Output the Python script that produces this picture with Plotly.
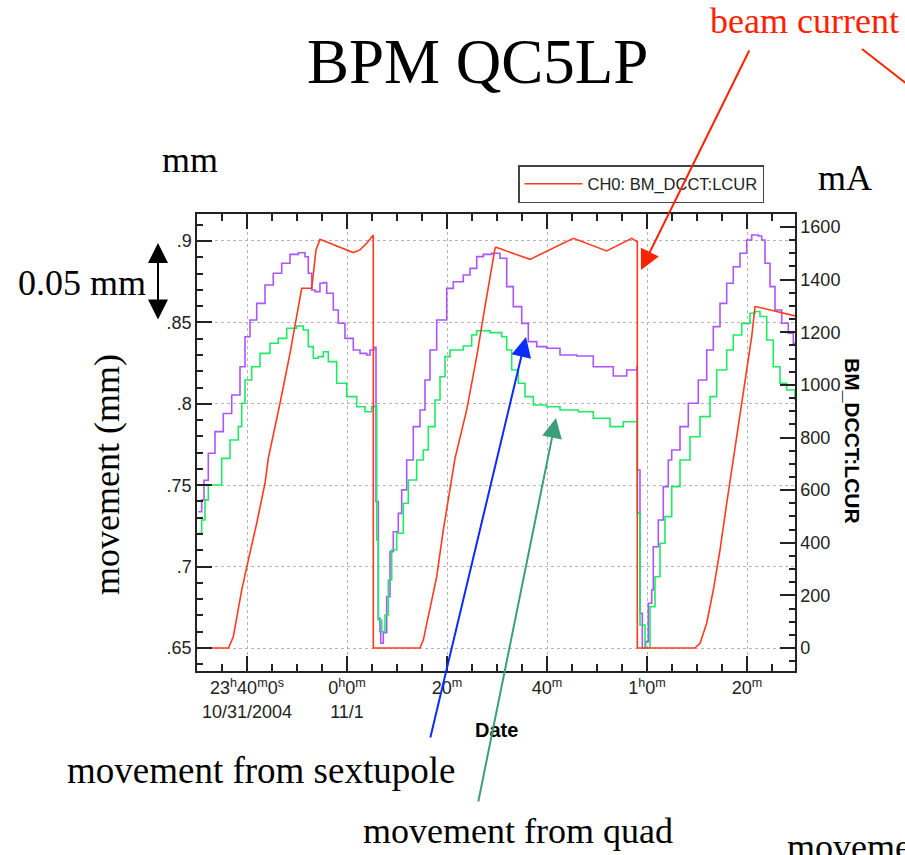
import pandas as pd
import plotly.graph_objects as go

# ---------------- data (minutes after 2004-10-31 23:30:00) ----------------
T0 = pd.Timestamp("2004-10-31 23:30:00")

cur_t = [0, 6.3, 7.26, 8.94, 10.26, 11.94, 13.6, 14.26, 16.6, 18.6, 20.94, 22.94, 23.8, 24.6,
         31.26, 32.6, 33.94, 35.14, 35.26, 35.26, 44.6, 45.26, 46.6, 47.94, 49.26, 50.6, 51.6,
         53.94, 55.94, 57.6, 58.6, 59.6, 59.8, 66.6, 75.26, 81.94, 86.94, 87.94, 88.06, 88.06,
         99.6, 100.6, 101.94, 103.26, 104.6, 105.94, 107.26, 109.26, 110.94, 111.6, 111.94, 119.6]
cur_mA = [0, 0, 43, 220, 334, 474, 626, 721, 930, 1120, 1367, 1367, 1513, 1553,
          1503, 1513, 1538, 1570, 1570, 0, 0, 30, 144, 271, 448, 600, 721,
          905, 1107, 1297, 1411, 1519, 1523, 1477, 1557, 1509, 1557, 1544, 1544, 0,
          0, 18, 94, 220, 372, 550, 714, 981, 1183, 1297, 1297, 1262]

sext_t = [0.26, 0.94, 1.4, 2.26, 3.6, 5.26, 6.94, 8.6, 9.6, 10.6, 11.94, 13.6, 15.26, 16.94,
          18.6, 20.26, 21.6, 22.26, 22.94, 23.6, 24.6, 25.26, 25.94, 27.26, 28.26, 29.6, 31.26,
          32.6, 33.94, 34.6, 35.4, 35.8, 36.26, 36.6, 36.74, 37.26, 37.94, 38.6, 39.26, 40.26,
          40.94, 41.94, 43.26, 44.6, 45.6, 46.6, 47.94, 49.94, 51.26, 53.26, 54.6, 55.94, 57.26,
          58.94, 60.6, 61.94, 63.26, 64.94, 66.26, 67.94, 69.94, 72.6, 75.94, 79.26, 83.26,
          85.94, 87.94, 88.06, 88.6, 89.06, 89.74, 90.26, 90.94, 91.26, 92.26, 93.26, 94.26,
          94.94, 96.6, 98.26, 100.26, 101.94, 103.26, 104.6, 105.94, 107.26, 108.6, 109.94,
          110.94, 112.26, 112.94, 113.6, 114.6, 115.6, 116.94, 118.26, 119.26, 119.6]
sext_mm = [0.7337, 0.741, 0.753, 0.7696, 0.7829, 0.794, 0.8054, 0.8228, 0.8412, 0.8515, 0.8617,
           0.873, 0.8802, 0.8863, 0.8918, 0.8928, 0.8903, 0.8802, 0.8699, 0.8689, 0.874, 0.8744,
           0.8679, 0.8576, 0.8495, 0.8402, 0.833, 0.831, 0.83, 0.833, 0.8347, 0.7399, 0.6683,
           0.66, 0.6529, 0.6594, 0.6815, 0.7092, 0.7214, 0.7327, 0.7471, 0.7655, 0.786, 0.7962,
           0.8146, 0.833, 0.8515, 0.8709, 0.875, 0.8791, 0.8832, 0.8904, 0.8918, 0.8925, 0.8894,
           0.872, 0.8597, 0.8494, 0.8382, 0.8351, 0.8341, 0.83, 0.8294, 0.8228, 0.8171, 0.8208,
           0.8228, 0.7593, 0.6713, 0.65, 0.6539, 0.6775, 0.6856, 0.7122, 0.7286, 0.7491, 0.7655,
           0.7716, 0.786, 0.8003, 0.8146, 0.833, 0.8474, 0.8617, 0.874, 0.8842, 0.8925, 0.9006,
           0.9037, 0.9031, 0.9006, 0.8863, 0.872, 0.8576, 0.8495, 0.8434, 0.8372, 0.836]

quad_t = [0.26, 0.94, 1.6, 2.26, 4.94, 6.6, 8.26, 8.94, 9.6, 10.94, 12.6, 14.6, 16.26, 17.94,
          19.94, 21.26, 22.26, 23.26, 24.26, 25.26, 26.26, 27.94, 29.94, 31.94, 33.6, 34.94,
          35.6, 35.94, 36.26, 36.94, 37.6, 38.26, 38.94, 39.94, 41.26, 42.26, 43.94, 45.26,
          46.26, 47.6, 48.6, 49.6, 50.6, 53.26, 54.94, 55.94, 58.6, 60.94, 61.94, 62.94, 64.26,
          65.6, 67.26, 69.94, 72.6, 76.26, 79.26, 82.6, 85.26, 87.94, 88.06, 88.6, 89.6, 90.6,
          91.6, 92.6, 93.6, 94.94, 96.6, 98.6, 100.6, 102.6, 103.94, 105.94, 107.26, 108.94,
          110.6, 111.6, 112.6, 113.94, 115.26, 116.6, 117.94, 119.6]
quad_mm = [0.7205, 0.7286, 0.741, 0.7501, 0.7665, 0.7778, 0.786, 0.8003, 0.8146, 0.8228, 0.831,
           0.8372, 0.8402, 0.8464, 0.8478, 0.8453, 0.8351, 0.828, 0.829, 0.832, 0.8259, 0.8126,
           0.8044, 0.7982, 0.7951, 0.7982, 0.7987, 0.7163, 0.6672, 0.66, 0.6703, 0.6918, 0.7102,
           0.7205, 0.7389, 0.7532, 0.7655, 0.7716, 0.786, 0.8023, 0.8166, 0.829, 0.833, 0.8355,
           0.8423, 0.8449, 0.8437, 0.8412, 0.833, 0.8208, 0.8126, 0.8044, 0.7993, 0.7982, 0.7962,
           0.7951, 0.7911, 0.786, 0.789, 0.7901, 0.733, 0.6641, 0.65, 0.6754, 0.6938, 0.7143,
           0.7307, 0.7491, 0.7655, 0.7798, 0.7921, 0.8044, 0.8208, 0.833, 0.8423, 0.8494, 0.8556,
           0.8567, 0.8536, 0.8392, 0.8228, 0.8126, 0.8085, 0.8023]

x_tickvals = ["2004-10-31 23:40:00", "2004-11-01 00:00:00", "2004-11-01 00:20:00",
              "2004-11-01 00:40:00", "2004-11-01 01:00:00", "2004-11-01 01:20:00"]
x_ticktext = ["23<sup>h</sup>40<sup>m</sup>0<sup>s</sup><br>10/31/2004",
              "0<sup>h</sup>0<sup>m</sup><br>11/1",
              "20<sup>m</sup><br> ", "40<sup>m</sup><br> ",
              "1<sup>h</sup>0<sup>m</sup><br> ", "20<sup>m</sup><br> "]
mm_tickvals = [0.65, 0.7, 0.75, 0.8, 0.85, 0.9]
mm_ticktext = [".65", ".7", ".75", ".8", ".85", ".9"]


def to_time(mins):
    return [T0 + pd.Timedelta(minutes=m) for m in mins]


# ---------------- figure ----------------
W, H = 905, 855
L, R, T, B = 197, 110, 214, 184


def px(x):
    return (x - L) / (W - L - R)


def py(y):
    return (H - B - y) / (H - T - B)


AX = "#222222"
GRID = "#b4b4b4"
SANS = "Liberation Sans"
SERIF = "Liberation Serif"

fig = go.Figure()
fig.add_trace(go.Scatter(x=to_time(sext_t), y=sext_mm, mode="lines", showlegend=False,
                         line=dict(color="#aa55ff", width=1.6, shape="hv"), yaxis="y"))
fig.add_trace(go.Scatter(x=to_time(quad_t), y=quad_mm, mode="lines", showlegend=False,
                         line=dict(color="#1eea66", width=1.6, shape="hv"), yaxis="y"))
fig.add_trace(go.Scatter(x=to_time(cur_t), y=cur_mA, mode="lines", name="CH0: BM_DCCT:LCUR",
                         line=dict(color="#ff3b1f", width=1.6), yaxis="y2"))

fig.update_layout(
    width=W, height=H, margin=dict(l=L, r=R, t=T, b=B),
    paper_bgcolor="white", plot_bgcolor="white",
    font=dict(family=SANS, size=18, color=AX),
    xaxis=dict(type="date", range=[T0, T0 + pd.Timedelta(minutes=119.6)],
               tickmode="array", tickvals=x_tickvals, ticktext=x_ticktext,
               ticks="inside", ticklen=15, tickwidth=1.5, tickcolor=AX,
               showline=True, linecolor=AX, linewidth=1.5, mirror="ticks",
               showgrid=True, gridcolor=GRID, griddash="dot", gridwidth=1, zeroline=False,
               tickfont=dict(family=SANS, size=18, color=AX),
               minor=dict(tickmode="linear", tick0="2004-10-31 23:30:00", dtick=300000,
                          ticks="inside", ticklen=7, tickwidth=1.5, tickcolor=AX, showgrid=False)),
    yaxis=dict(range=[0.63587, 0.91658], tickmode="array", tickvals=mm_tickvals,
               ticktext=mm_ticktext, ticks="inside", ticklen=15, tickwidth=1.5, tickcolor=AX,
               showline=True, linecolor=AX, linewidth=1.5,
               showgrid=True, gridcolor=GRID, griddash="dot", gridwidth=1, zeroline=False,
               tickfont=dict(family=SANS, size=18, color=AX),
               minor=dict(tickmode="linear", tick0=0.6, dtick=0.01, ticks="inside",
                          ticklen=6, tickwidth=1.5, tickcolor=AX, showgrid=False)),
    yaxis2=dict(overlaying="y", side="right", range=[-87.4, 1649.4], tickmode="linear",
                tick0=0, dtick=200, ticks="inside", ticklen=15, tickwidth=1.5, tickcolor=AX,
                showline=True, linecolor=AX, linewidth=1.5, showgrid=False, zeroline=False,
                tickfont=dict(family=SANS, size=18, color=AX),
                minor=dict(tickmode="linear", tick0=0, dtick=50, ticks="inside", ticklen=6,
                           tickwidth=1.5, tickcolor=AX, showgrid=False)),
    legend=dict(x=px(518), y=py(165), xanchor="left", yanchor="top", itemwidth=58,
                bgcolor="white", bordercolor="#444", borderwidth=1.5,
                font=dict(family=SANS, size=16.5, color=AX)),
)


def text(s, x, y, size=36, color="black", family=SERIF, angle=0, xanchor="center"):
    fig.add_annotation(text=s, x=px(x), y=py(y), xref="paper", yref="paper",
                       showarrow=False, xanchor=xanchor, yanchor="middle", textangle=angle,
                       font=dict(family=family, size=size, color=color))


text("BPM QC5LP", 477, 62, size=63)
text("beam current", 804, 21, size=36, color="#ff2200")
text("mm", 190, 160)
text("mA", 845, 178)
text("0.05 mm", 82, 283)
text("movement (mm)", 107, 475, angle=-90)
text("movement from sextupole", 261, 770, size=37)
text("movement from quad", 518, 831)
text("movement", 785, 847, xanchor="left")
text("<b>Date</b>", 496, 730, size=20, family=SANS, color="black")
text("<b>BM_DCCT:LCUR</b>", 853, 441, size=21, family=SANS, color="black", angle=90)


def arrow(hx, hy, tx, ty, color, both=False):
    fig.add_annotation(text="", x=px(hx), y=py(hy), xref="paper", yref="paper",
                       ax=tx - hx, ay=ty - hy, axref="pixel", ayref="pixel",
                       showarrow=True, arrowhead=2, arrowsize=2, arrowwidth=2,
                       arrowcolor=color, arrowside="end+start" if both else "end",
                       startarrowhead=2, startarrowsize=2)


arrow(641, 270, 750, 49, "#ff2200")
arrow(526, 337, 430, 739, "#0b2bff")
arrow(556, 418, 478, 803, "#3d9f7a")
arrow(158, 243, 158, 321, "black", both=True)

fig.add_shape(type="line", xref="paper", yref="paper",
              x0=px(862), y0=py(49), x1=px(930), y1=py(102),
              line=dict(color="#ff2200", width=2))

fig.write_html("out.html")
